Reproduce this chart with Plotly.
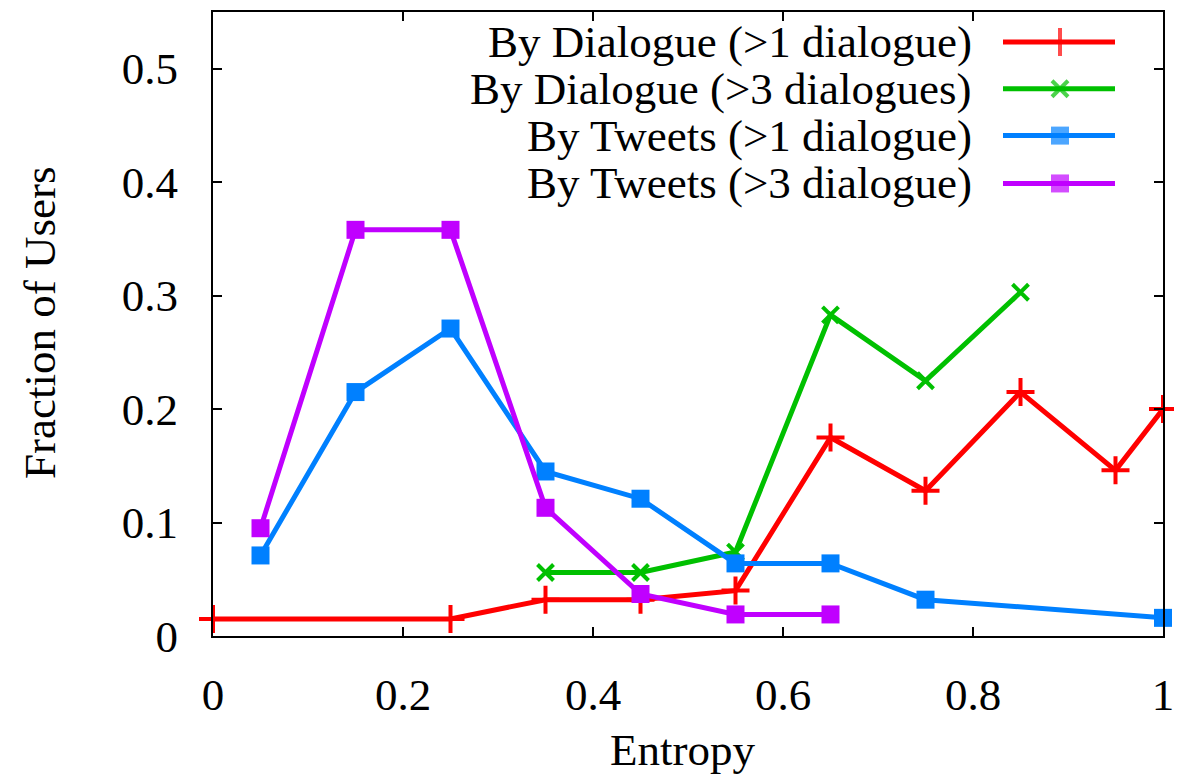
import plotly.graph_objects as go

# ---- data ----
red_x = [0.0, 0.25, 0.35, 0.45, 0.55, 0.65, 0.75, 0.85, 0.95, 1.0]
red_y = [0.015, 0.015, 0.032, 0.032, 0.040, 0.175, 0.128, 0.215, 0.146, 0.200]

green_x = [0.35, 0.45, 0.55, 0.65, 0.75, 0.85]
green_y = [0.056, 0.056, 0.074, 0.283, 0.225, 0.303]

blue_x = [0.05, 0.15, 0.25, 0.35, 0.45, 0.55, 0.65, 0.75, 1.0]
blue_y = [0.071, 0.215, 0.271, 0.145, 0.121, 0.064, 0.064, 0.032, 0.016]

purple_x = [0.05, 0.15, 0.25, 0.35, 0.45, 0.55, 0.65]
purple_y = [0.095, 0.358, 0.358, 0.113, 0.037, 0.019, 0.019]

names = ["By Dialogue (>1 dialogue)", "By Dialogue (>3 dialogues)",
         "By Tweets (>1 dialogue)", "By Tweets (>3 dialogue)"]
colors = ["#ff0000", "#00c000", "#0080ff", "#c000ff"]
symbols = ["cross-thin", "x-thin", "square", "square"]
sizes = [20, 16, 18, 18]

xticks = [0, 0.2, 0.4, 0.6, 0.8, 1]
xticklabels = ["0", "0.2", "0.4", "0.6", "0.8", "1"]
yticks = [0, 0.1, 0.2, 0.3, 0.4, 0.5]
yticklabels = ["0", "0.1", "0.2", "0.3", "0.4", "0.5"]

FONT = "Liberation Serif"
OFF = 8  # page body margin offset
W, H = 1182 - OFF, 775 - OFF
# plot area in screen pixels: left 213, right 1163, top 10, bottom 636
SL, SR, ST, SB = 213, 1163, 10, 636
L, T = SL - OFF, ST - OFF
R = W - (SR - OFF)
B = H - (SB - OFF)
PW, PH = SR - SL, SB - ST

def px(xs):
    return (xs - SL) / PW

def py(ys):
    return (SB - ys) / PH

fig = go.Figure()
series = [(red_x, red_y), (green_x, green_y), (blue_x, blue_y), (purple_x, purple_y)]
for i, (xs, ys) in enumerate(series):
    mk = dict(symbol=symbols[i], size=sizes[i], color=colors[i],
              line=dict(color=colors[i], width=4 if i < 2 else 0))
    fig.add_trace(go.Scatter(x=xs, y=ys, mode="lines+markers", name=names[i],
                             line=dict(color=colors[i], width=5),
                             marker=mk, showlegend=False, cliponaxis=False))

# manual legend (text right-aligned, sample to its right) on overlay axes
leg_rows = [40, 87, 134, 182]
annotations = []
for i in range(4):
    yy = py(leg_rows[i])
    mk = dict(symbol=symbols[i], size=[0, sizes[i], 0], color=colors[i],
              line=dict(color=colors[i], width=4 if i < 2 else 0))
    fig.add_trace(go.Scatter(x=[px(1003), px(1060), px(1115)], y=[yy, yy, yy],
                             xaxis="x2", yaxis="y2", mode="lines+markers",
                             line=dict(color=colors[i], width=5), marker=mk,
                             showlegend=False, hoverinfo="skip", cliponaxis=False))
    annotations.append(dict(x=px(974), y=yy, xref="paper", yref="paper",
                            text=names[i], showarrow=False, xanchor="right",
                            yanchor="middle",
                            font=dict(family=FONT, size=45, color="black")))

annotations.append(dict(x=px(682), y=py(750), xref="paper", yref="paper", text="Entropy",
                        showarrow=False, xanchor="center", yanchor="middle",
                        font=dict(family=FONT, size=45, color="black")))
annotations.append(dict(x=px(40), y=py(322), xref="paper", yref="paper",
                        text="Fraction of Users", textangle=-90, showarrow=False,
                        xanchor="center", yanchor="middle",
                        font=dict(family=FONT, size=45, color="black")))

axis_common = dict(showgrid=False, zeroline=False, showline=True, linecolor="black",
                   linewidth=2, mirror="ticks", ticks="inside", ticklen=9,
                   tickwidth=1.5, tickcolor="black",
                   tickfont=dict(family=FONT, size=45, color="black"))

fig.update_layout(
    width=W, height=H,
    margin=dict(l=L, r=R, t=T, b=B, pad=0),
    paper_bgcolor="white", plot_bgcolor="white",
    showlegend=False,
    xaxis=dict(range=[0, 1], tickvals=xticks, ticktext=xticklabels,
               ticklabelstandoff=18, **axis_common),
    yaxis=dict(range=[0, 0.55], tickvals=yticks, ticktext=yticklabels,
               ticklabelstandoff=24, **axis_common),
    xaxis2=dict(range=[0, 1], overlaying="x", visible=False, fixedrange=True),
    yaxis2=dict(range=[0, 1], overlaying="y", visible=False, fixedrange=True),
    annotations=annotations,
)

fig.write_html("out.html")
